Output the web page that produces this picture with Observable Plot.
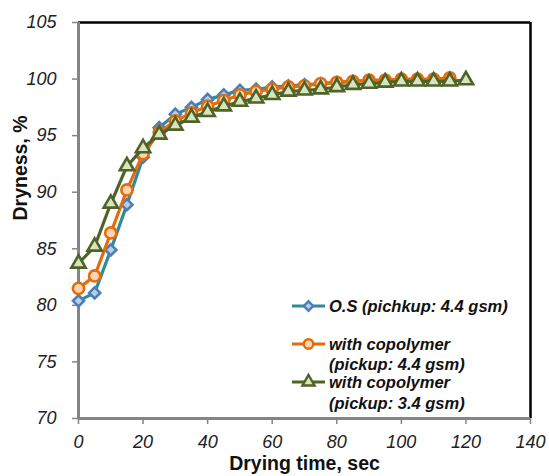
<!DOCTYPE html>
<html>
<head>
<meta charset="utf-8">
<script src="https://cdn.jsdelivr.net/npm/d3@7"></script>
<script src="https://cdn.jsdelivr.net/npm/@observablehq/plot@0.6"></script>
<style>
  html, body { margin: 0; padding: 0; background: #fff; }
  #wrap { position: relative; width: 549px; height: 476px; font-family: "Liberation Sans", Arial, sans-serif; }
  #legend { position: absolute; left: 0; top: 0; width: 549px; height: 476px; pointer-events: none; }
</style>
</head>
<body>
<div id="wrap"></div>
<script>
// ---- data ----
const timeOS = [0,5,10,15,20,25,30,35,40,45,50,55,60,65,70,75,80,85];
const dryOS  = [80.4,81.1,84.9,88.9,93.1,95.7,96.9,97.5,98.2,98.6,99.0,99.1,99.3,99.4,99.5,99.6,99.7,99.8];

const timeCo44 = [0,5,10,15,20,25,30,35,40,45,50,55,60,65,70,75,80,85,90,95,100,105,110,115];
const dryCo44  = [81.5,82.6,86.4,90.2,93.4,95.3,96.3,97.0,97.6,98.1,98.6,98.9,99.1,99.3,99.4,99.6,99.7,99.8,99.9,99.9,100.0,100.0,100.0,100.1];

const timeCo34 = [0,5,10,15,20,25,30,35,40,45,50,55,60,65,70,75,80,85,90,95,100,105,110,115,120];
const dryCo34  = [83.7,85.2,89.0,92.3,93.9,95.1,95.9,96.6,97.1,97.6,98.0,98.3,98.6,98.9,99.0,99.1,99.3,99.5,99.6,99.7,99.8,99.8,99.8,99.8,99.9];

const seriesNames = ["O.S (pichkup: 4.4 gsm)", "with copolymer\n(pickup: 4.4 gsm)", "with copolymer\n(pickup: 3.4 gsm)"];
const xTicks = [0,20,40,60,80,100,120,140];
const yTicks = [70,75,80,85,90,95,100,105];

// styles
const lineColors   = ["#2E8B9E", "#E46C0A", "#4F6228"];
const markStrokes  = ["#4A7EBB", "#E46C0A", "#4F6228"];
const markFills    = ["#B9CDE5", "#FCD5B5", "#D7E4BD"];
const symbols      = ["diamond2", "circle", "triangle"];
const markR        = [5, 5.6, 5.3];

const tables = [
  timeOS.map((t, i) => ({t, v: dryOS[i]})),
  timeCo44.map((t, i) => ({t, v: dryCo44[i]})),
  timeCo34.map((t, i) => ({t, v: dryCo34[i]}))
];

const FONT = "Liberation Sans, Arial, sans-serif";

const marks = [
  // frame sides
  Plot.ruleY([105], {stroke: "#000", strokeWidth: 2.5}),
  Plot.ruleX([140], {stroke: "#000", strokeWidth: 2.5}),
  Plot.ruleX([0], {stroke: "#858585", strokeWidth: 3}),
  Plot.ruleY([70], {stroke: "#858585", strokeWidth: 3}),
  Plot.axisY(yTicks, {tickSize: 6, tickPadding: 16, stroke: "#858585", strokeWidth: 1.5, fill: "#222", fontSize: 18, fontStyle: "italic", label: null}),
  Plot.axisX(xTicks, {tickSize: 6, tickPadding: 11, stroke: "#858585", strokeWidth: 1.5, fill: "#222", fontSize: 18, fontStyle: "italic", label: null}),
  Plot.text(["Dryness, %"], {frameAnchor: "left", rotate: -90, dx: -58, fontSize: 19.5, fontWeight: "bold", fill: "#111"}),
  Plot.text(["Drying time, sec"], {frameAnchor: "bottom", dy: 51, fontSize: 19.5, fontWeight: "bold", fill: "#111"})
];

tables.forEach((tb, k) => {
  marks.push(Plot.line(tb, {x: "t", y: "v", stroke: lineColors[k], strokeWidth: 3.2}));
  marks.push(Plot.dot(tb, {x: "t", y: "v", symbol: () => symbols[k], r: markR[k], stroke: markStrokes[k], fill: markFills[k], strokeWidth: 2.6}));
});

const chart = Plot.plot({
  width: 549,
  height: 476,
  marginLeft: 78,
  marginRight: 19,
  marginTop: 22,
  marginBottom: 58,
  x: {domain: [0, 140], label: null},
  y: {domain: [70, 105], label: null},
  symbol: {type: "identity"},
  style: {fontFamily: FONT, background: "#fff", overflow: "visible"},
  marks
});

const wrap = document.getElementById("wrap");
wrap.appendChild(chart);

// ---- legend overlay ----
const legendRows = [
  {y: 306, lines: [306]},
  {y: 344, lines: [344, 364]},
  {y: 382, lines: [382, 403]}
];
const NS = "http://www.w3.org/2000/svg";
const lg = document.createElementNS(NS, "svg");
lg.setAttribute("id", "legend");
lg.setAttribute("width", 549);
lg.setAttribute("height", 476);
legendRows.forEach((row, k) => {
  const ln = document.createElementNS(NS, "line");
  ln.setAttribute("x1", 292); ln.setAttribute("x2", 325);
  ln.setAttribute("y1", row.y); ln.setAttribute("y2", row.y);
  ln.setAttribute("stroke", lineColors[k]); ln.setAttribute("stroke-width", 3.2);
  lg.appendChild(ln);
  const sym = d3.symbol(k === 0 ? d3.symbolDiamond2 : k === 1 ? d3.symbolCircle : d3.symbolTriangle, Math.PI * (markR[k] * 0.85) ** 2)();
  const p = document.createElementNS(NS, "path");
  p.setAttribute("d", sym);
  p.setAttribute("transform", `translate(308.5,${row.y})`);
  p.setAttribute("fill", markFills[k]); p.setAttribute("stroke", markStrokes[k]); p.setAttribute("stroke-width", 2.4);
  lg.appendChild(p);
  seriesNames[k].split("\n").forEach((txt, j) => {
    const t = document.createElementNS(NS, "text");
    t.setAttribute("x", 329);
    t.setAttribute("y", row.lines[j]);
    t.setAttribute("dy", "0.36em");
    t.setAttribute("font-family", FONT);
    t.setAttribute("font-size", 16.5);
    t.setAttribute("font-weight", "bold");
    t.setAttribute("font-style", "italic");
    t.setAttribute("fill", "#111");
    t.textContent = txt;
    lg.appendChild(t);
  });
});
wrap.appendChild(lg);
</script>
</body>
</html>
